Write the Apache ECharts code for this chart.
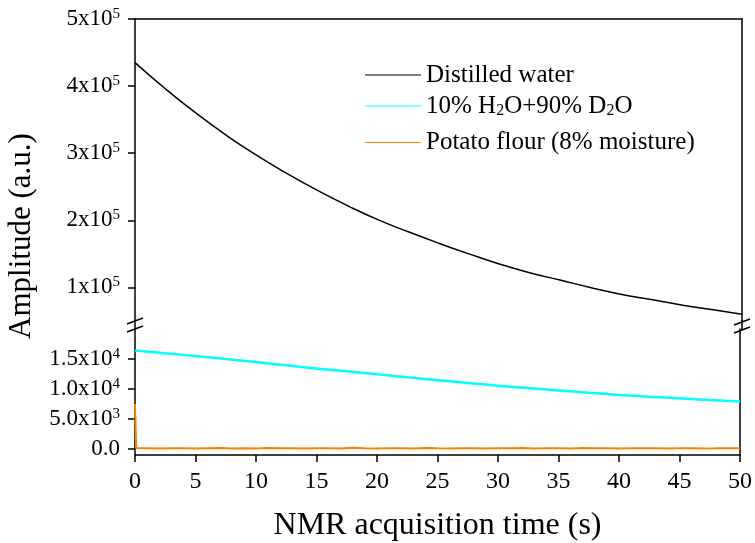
<!DOCTYPE html>
<html>
<head>
<meta charset="UTF-8">
<title>NMR amplitude</title>
<script src="https://cdn.jsdelivr.net/npm/echarts@6/dist/echarts.min.js"></script>
<style>
  html, body { margin: 0; padding: 0; background: #fff; }
  #chart { width: 755px; height: 543px; }
</style>
</head>
<body>
<div id="chart"></div>
<script>
// values
const time = [0, 2.5, 5, 7.5, 10, 12.5, 15, 17.5, 20, 22.5, 25, 27.5, 30, 32.5, 35, 37.5, 40, 42.5, 45, 47.5, 50];
const distilledWater = [435000, 396000, 360000, 327000, 297000, 270000, 245000, 222000, 201000, 183000, 166000, 150000, 135000, 122000, 111000, 100000, 90000, 82000, 74000, 67000, 60000];
const h2oD2o = [16400, 15950, 15500, 15000, 14500, 13950, 13430, 12940, 12450, 11950, 11470, 11000, 10560, 10150, 9760, 9380, 9020, 8710, 8440, 8180, 7930];
const flourTime = [0, 0.1, 1, 2, 3, 4, 5, 6, 7, 8, 9, 10, 11, 12, 13, 14, 15, 16, 17, 18, 19, 20, 21, 22, 23, 24, 25, 26, 27, 28, 29, 30, 31, 32, 33, 34, 35, 36, 37, 38, 39, 40, 41, 42, 43, 44, 45, 46, 47, 48, 49, 50];
const potatoFlour = [7500, 150, 120, 90, 140, 110, 80, 130, 160, 100, 120, 90, 150, 110, 130, 80, 120, 140, 100, 190, 110, 90, 130, 120, 100, 150, 110, 90, 140, 120, 100, 130, 110, 150, 90, 120, 140, 100, 170, 110, 130, 90, 120, 110, 140, 100, 130, 120, 90, 110, 140, 120];

const seriesNames = ['Distilled water', '10% H2O+90% D2O', 'Potato flour (8% moisture)'];
const upperTicks = [100000, 200000, 300000, 400000, 500000];
const upperTickLabels = ['1', '2', '3', '4', '5'];
const lowerTicks = [0, 5000, 10000, 15000];
const lowerTickLabels = ['0.0', '5.0x10', '1.0x10', '1.5x10'];
const lowerTickPowers = ['', '3', '4', '4'];

const font = 'Liberation Serif';
const chart = echarts.init(document.getElementById('chart'));

const supRich = {
  b: { fontFamily: font, fontSize: 23, color: '#000' },
  sup: { fontFamily: font, fontSize: 15, color: '#000', padding: [0, 0, 10, 0] }
};

function legendAt(name, top) {
  return {
    data: [name],
    left: 365,
    top: top,
    padding: 0,
    icon: 'rect',
    itemWidth: 56,
    itemHeight: 1.2,
    selectedMode: false,
    formatter: n => n === seriesNames[1] ? '10% H{sub|2}O+90% D{sub|2}O' : n,
    textStyle: {
      fontFamily: font, fontSize: 25, color: '#000', lineHeight: 26,
      rich: {
        sub: { fontFamily: font, fontSize: 16, color: '#000', lineHeight: 16, padding: [10, 0, 0, 0] }
      }
    }
  };
}

function frameAxis(position, gridIndex, extra) {
  return Object.assign({
    type: 'value',
    gridIndex: gridIndex,
    position: position,
    axisLine: { show: true, onZero: false, lineStyle: { color: '#000', width: 1.5 } },
    axisTick: { show: false },
    axisLabel: { show: false },
    splitLine: { show: false }
  }, extra || {});
}

const blackLine = { stroke: '#000', lineWidth: 1.5 };

const option = {
  animation: false,
  backgroundColor: '#fff',
  grid: [
    { left: 135, right: 13, top: 19, height: 302 },
    { left: 135, right: 13, top: 329, height: 126.5 }
  ],
  legend: [
    legendAt(seriesNames[0], 62),
    legendAt(seriesNames[1], 93),
    legendAt(seriesNames[2], 129.5)
  ],
  xAxis: [
    frameAxis('top', 0, { min: 0, max: 50, interval: 5 }),
    {
      type: 'value', gridIndex: 1, position: 'bottom',
      min: 0, max: 50, interval: 5,
      name: 'NMR acquisition time (s)',
      nameLocation: 'middle',
      nameGap: 55,
      nameTextStyle: { fontFamily: font, fontSize: 32, color: '#000' },
      axisLine: { show: true, onZero: false, lineStyle: { color: '#000', width: 1.5 } },
      axisTick: { show: true, inside: false, length: 7, lineStyle: { color: '#000', width: 1.5 } },
      axisLabel: { margin: 15, fontFamily: font, fontSize: 24, color: '#000' },
      splitLine: { show: false }
    }
  ],
  yAxis: [
    {
      type: 'value', gridIndex: 0, position: 'left',
      min: 50000, max: 500000,
      axisLine: { show: true, onZero: false, lineStyle: { color: '#000', width: 1.5 } },
      axisTick: { show: true, length: 7, customValues: upperTicks, lineStyle: { color: '#000', width: 1.5 } },
      axisLabel: {
        margin: 15,
        customValues: upperTicks,
        formatter: v => '{b|' + upperTickLabels[upperTicks.indexOf(v)] + 'x10}{sup|5}',
        rich: supRich
      },
      splitLine: { show: false }
    },
    {
      type: 'value', gridIndex: 1, position: 'left',
      min: -1000, max: 20000,
      axisLine: { show: true, onZero: false, lineStyle: { color: '#000', width: 1.5 } },
      axisTick: { show: true, length: 7, customValues: lowerTicks, lineStyle: { color: '#000', width: 1.5 } },
      axisLabel: {
        margin: 15,
        customValues: lowerTicks,
        formatter: v => {
          const i = lowerTicks.indexOf(v);
          return '{b|' + lowerTickLabels[i] + '}' + (lowerTickPowers[i] ? '{sup|' + lowerTickPowers[i] + '}' : '');
        },
        rich: supRich
      },
      splitLine: { show: false }
    },
    frameAxis('right', 0, { min: 50000, max: 500000 }),
    frameAxis('right', 1, { min: -1000, max: 20000 })
  ],
  series: [
    {
      name: seriesNames[0], type: 'line', xAxisIndex: 0, yAxisIndex: 0,
      data: time.map((t, i) => [t, distilledWater[i]]),
      smooth: true, showSymbol: false, color: '#000',
      lineStyle: { color: '#000', width: 1.5 }
    },
    {
      name: seriesNames[1], type: 'line', xAxisIndex: 1, yAxisIndex: 1,
      data: time.map((t, i) => [t, h2oD2o[i]]),
      smooth: true, showSymbol: false, color: '#00ffff',
      lineStyle: { color: '#00ffff', width: 2.5 }
    },
    {
      name: seriesNames[2], type: 'line', xAxisIndex: 1, yAxisIndex: 1,
      data: flourTime.map((t, i) => [t, potatoFlour[i]]),
      showSymbol: false, color: '#ff8000',
      lineStyle: { color: '#ff8000', width: 2 }
    }
  ],
  graphic: [
    // y-axis title spanning both panels
    {
      type: 'text', x: 22, y: 236, rotation: Math.PI / 2,
      style: { text: 'Amplitude (a.u.)', fontFamily: font, fontSize: 31, fill: '#000', align: 'center', verticalAlign: 'middle' }
    },
    // axis segments across the break
    { type: 'line', shape: { x1: 135, y1: 320, x2: 135, y2: 330 }, style: blackLine },
    { type: 'line', shape: { x1: 742, y1: 320, x2: 742, y2: 330 }, style: blackLine },
    // break marks
    { type: 'line', shape: { x1: 127, y1: 324, x2: 143, y2: 318 }, style: blackLine },
    { type: 'line', shape: { x1: 127, y1: 332, x2: 143, y2: 326 }, style: blackLine },
    { type: 'line', shape: { x1: 734, y1: 325, x2: 750, y2: 319 }, style: blackLine },
    { type: 'line', shape: { x1: 734, y1: 333, x2: 750, y2: 327 }, style: blackLine }
  ]
};

chart.setOption(option);
</script>
</body>
</html>
